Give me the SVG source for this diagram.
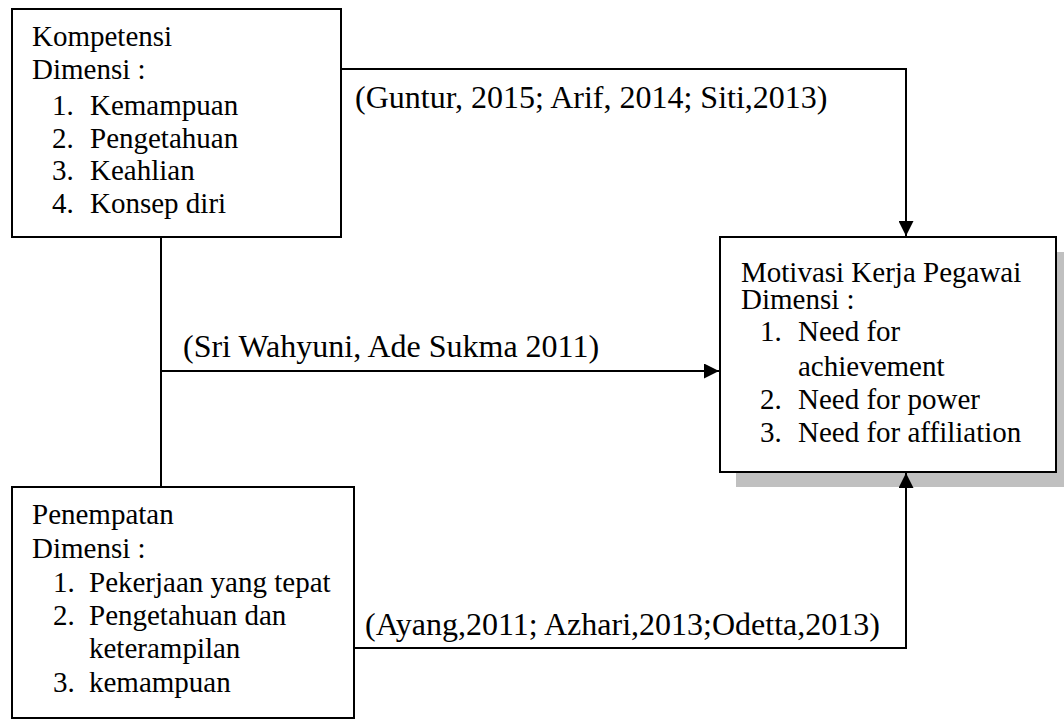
<svg xmlns="http://www.w3.org/2000/svg" width="1064" height="720" viewBox="0 0 1064 720">
  <style>
    .box { fill: #ffffff; stroke: #000000; stroke-width: 2; }
    .shadow { fill: #c0c0c0; stroke: none; }
    .conn { fill: none; stroke: #000000; stroke-width: 2; }
    .t { font-family: 'Liberation Serif', Tinos, 'Times New Roman', Times, 'DejaVu Serif', serif; font-size: 29px; fill: #000000; }
    .cite { font-family: 'Liberation Serif', Tinos, 'Times New Roman', Times, 'DejaVu Serif', serif; font-size: 32px; fill: #000000; }
  </style>
  <defs>
    <marker id="arrow" markerUnits="userSpaceOnUse" markerWidth="15" markerHeight="15" refX="15" refY="7.5" orient="auto">
      <path d="M0,0 L15,7.5 L0,15 z" fill="#000000"/>
    </marker>
  </defs>
  <rect width="1064" height="720" fill="#ffffff"/>

  <g id="kompetensi" font-family="Liberation Serif, serif">
    <rect class="box" x="12" y="9" width="329" height="228"/>
    <text class="t" x="32" y="46">Kompetensi</text>
    <text class="t" x="32" y="79">Dimensi :</text>
    <text class="t" x="52" y="115">1.</text><text class="t" x="90" y="115">Kemampuan</text>
    <text class="t" x="52" y="148">2.</text><text class="t" x="90" y="148">Pengetahuan</text>
    <text class="t" x="52" y="180">3.</text><text class="t" x="90" y="180">Keahlian</text>
    <text class="t" x="52" y="213">4.</text><text class="t" x="90" y="213">Konsep diri</text>
  </g>

  <g id="motivasi" font-family="Liberation Serif, serif">
    <rect class="shadow" x="736" y="252" width="340" height="235"/>
    <rect class="box" x="720" y="237" width="336" height="235"/>
    <text class="t" x="741" y="282">Motivasi Kerja Pegawai</text>
    <text class="t" x="741" y="309">Dimensi :</text>
    <text class="t" x="760" y="341">1.</text><text class="t" x="798" y="341">Need for</text>
    <text class="t" x="798" y="376">achievement</text>
    <text class="t" x="760" y="409">2.</text><text class="t" x="798" y="409">Need for power</text>
    <text class="t" x="760" y="442">3.</text><text class="t" x="798" y="442">Need for affiliation</text>
  </g>

  <g id="penempatan" font-family="Liberation Serif, serif">
    <rect class="box" x="12" y="487" width="342" height="231"/>
    <text class="t" x="32" y="524">Penempatan</text>
    <text class="t" x="32" y="558">Dimensi :</text>
    <text class="t" x="53" y="592">1.</text><text class="t" x="89" y="592">Pekerjaan yang tepat</text>
    <text class="t" x="53" y="625">2.</text><text class="t" x="89" y="625">Pengetahuan dan</text>
    <text class="t" x="89" y="658">keterampilan</text>
    <text class="t" x="53" y="692">3.</text><text class="t" x="89" y="692">kemampuan</text>
  </g>

  <g id="connectors" font-family="Liberation Serif, serif">
    <path class="conn" d="M341,69 H906 V236" marker-end="url(#arrow)"/>
    <path class="conn" d="M161,237 V487"/>
    <path class="conn" d="M161,371 H719" marker-end="url(#arrow)"/>
    <path class="conn" d="M354,648 H906 V473" marker-end="url(#arrow)"/>
    <text class="cite" x="355" y="108">(Guntur, 2015; Arif, 2014; Siti,2013)</text>
    <text class="cite" x="183" y="357">(Sri Wahyuni, Ade Sukma 2011)</text>
    <text class="cite" x="365" y="635">(Ayang,2011; Azhari,2013;Odetta,2013)</text>
  </g>
</svg>
